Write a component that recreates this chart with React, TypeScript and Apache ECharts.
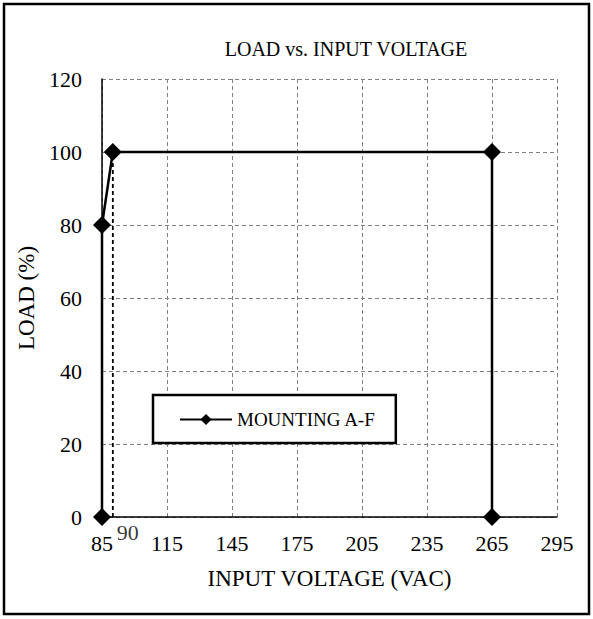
import React, { useEffect, useRef } from "react";
import * as echarts from "echarts";

const seriesName = "MOUNTING A-F";
const voltage = [85, 85, 90, 265, 265];
const load = [0, 80, 100, 100, 0];
const refVoltage = [90, 90];
const refLoad = [0, 100];
const refLabel = "90";
const xTicks = { min: 85, max: 295, interval: 30 };
const yTicks = { min: 0, max: 120, interval: 20 };

const FONT = "'Liberation Serif', 'Times New Roman', serif";

export default function App() {
  const ref = useRef<HTMLDivElement>(null);
  useEffect(() => {
    const chart = echarts.init(ref.current!, null, { renderer: "svg" });
    const grid = { left: 102, right: 36, top: 79, bottom: 102 };
    chart.setOption({
      animation: false,
      backgroundColor: "#fff",
      title: {
        text: "LOAD vs. INPUT VOLTAGE",
        left: 341,
        top: 34,
        textAlign: "center",
        textStyle: { fontFamily: FONT, fontSize: 20, fontWeight: "normal", color: "#000" },
      },
      graphic: [
        {
          type: "rect",
          shape: { x: 4, y: 4, width: 585, height: 610 },
          style: { fill: "none", stroke: "#000", lineWidth: 2.5 },
          silent: true,
        },
      ],
      grid,
      legend: {
        data: [seriesName],
        left: 153,
        top: 395,
        orient: "horizontal",
        backgroundColor: "#fff",
        borderColor: "#000",
        borderWidth: 2.5,
        borderRadius: 0,
        padding: [15, 20, 14, 26],
        itemWidth: 52,
        itemHeight: 14,
        textStyle: { fontFamily: FONT, fontSize: 19, color: "#000" },
        selectedMode: false,
      },
      xAxis: {
        type: "value",
        min: xTicks.min,
        max: xTicks.max,
        interval: xTicks.interval,
        name: "INPUT VOLTAGE (VAC)",
        nameLocation: "middle",
        nameGap: 50,
        nameTextStyle: { fontFamily: FONT, fontSize: 23, fontWeight: "normal", color: "#000" },
        axisLine: { show: true, onZero: false, lineStyle: { color: "#000", width: 1.5 } },
        axisTick: { show: false },
        axisLabel: { fontFamily: FONT, fontSize: 22, color: "#000", margin: 15 },
        splitLine: { show: true, lineStyle: { color: "#808080", type: [4, 3], width: 1 } },
      },
      yAxis: {
        type: "value",
        min: yTicks.min,
        max: yTicks.max,
        interval: yTicks.interval,
        name: "LOAD (%)",
        nameLocation: "middle",
        nameGap: 57,
        nameTextStyle: { fontFamily: FONT, fontSize: 23, fontWeight: "normal", color: "#000" },
        axisLine: { show: true, onZero: false, lineStyle: { color: "#000", width: 1.5 } },
        axisTick: { show: false },
        axisLabel: { fontFamily: FONT, fontSize: 22, color: "#000", margin: 20 },
        splitLine: { show: true, lineStyle: { color: "#808080", type: [4, 3], width: 1 } },
      },
      series: [
        {
          name: "ref",
          type: "line",
          data: refVoltage.map((v, i) => [v, refLoad[i]]),
          symbol: "none",
          lineStyle: { color: "#000", width: 1.8, type: [4, 3] },
          silent: true,
          z: 1,
        },
        {
          name: "refLabel",
          type: "scatter",
          data: [
            {
              value: [refVoltage[0], refLoad[0]],
              label: {
                show: true,
                position: "bottom",
                distance: 3,
                offset: [15, 1],
                formatter: refLabel,
                fontFamily: FONT,
                fontSize: 22,
                color: "#000",
              },
            },
          ],
          symbolSize: 0,
          silent: true,
          clip: false,
        },
        {
          name: seriesName,
          type: "line",
          data: voltage.map((v, i) => [v, load[i]]),
          symbol: "diamond",
          symbolSize: 18,
          showAllSymbol: true,
          clip: false,
          lineStyle: { color: "#000", width: 2.5 },
          itemStyle: { color: "#000" },
          z: 3,
        },
      ],
    });
    return () => chart.dispose();
  }, []);
  return (
    <div
      ref={ref}
      style={{ position: "fixed", left: 0, top: 0, width: 593, height: 619 }}
    />
  );
}
